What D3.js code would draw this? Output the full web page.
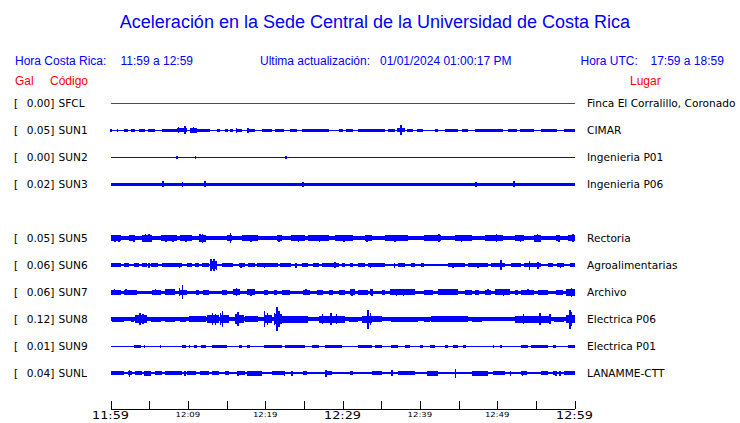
<!DOCTYPE html>
<html><head><meta charset="utf-8">
<script src="https://cdn.jsdelivr.net/npm/d3@7"></script>
<style>
html,body{margin:0;padding:0;background:#fff;}
svg{display:block;}
</style></head>
<body>
<svg id="chart" width="740" height="423"></svg>
<script>
// ---------- DATA ----------
const title = "Aceleración en la Sede Central de la Universidad de Costa Rica";
const horaCR = "11:59 a 12:59";
const horaUTC = "17:59 a 18:59";
const actualizacion = "01/01/2024 01:00:17 PM";

const rowOrder = ["SFCL","SUN1","SUN2","SUN3","SUN4","SUN5","SUN6","SUN7","SUN8","SUN9","SUNL"];
const codes    = ["SFCL","SUN1","SUN2","SUN3","SUN5","SUN6","SUN7","SUN8","SUN9","SUNL"];
const places   = ["Finca El Corralillo, Coronado","CIMAR","Ingenieria P01","Ingenieria P06","Rectoria",
                  "Agroalimentarias","Archivo","Electrica P06","Electrica P01","LANAMME-CTT"];
const peakGal  = [0.00,0.05,0.00,0.02,0.05,0.06,0.06,0.12,0.01,0.04];
const baseAmp  = [0.5,0.5,0.5,1.5,2.2,1.0,1.5,1.7,0.5,1.0];

// minutes after 11:59
const tickMinutes = [0,5,10,15,20,25,30,35,40,45,50,55,60];
const tickLabels  = {0:"11:59",10:"12:09",20:"12:19",30:"12:29",40:"12:39",50:"12:49",60:"12:59"};
const majorTicks  = [0,30,60];

// bursts: [startMin, endMin, amplitude]
const burstsSFCL = [];
const burstsSUN1 = [[1.7,2.3,1.5],[2.7,3.2,1.5],[3.7,4.5,1.5],[4.9,5.8,1.5],[6.7,8.6,1.5],[8.6,9.9,2],[10.3,11.2,2.5],
  [11.2,12.9,1.5],[13.8,14.2,1.5],[14.8,15.2,1.5],[15.5,15.9,1.5],[16.3,17.0,1.5],[17.6,18.7,1.5],[19.6,20.9,1.5],
  [21.3,22.4,1.5],[23.2,24.1,1.5],[24.7,28.2,1.5],[29.5,30.1,1.5],[30.5,31.4,1.5],[32.0,35.5,1.5],[35.9,36.8,1.5],
  [37.1,38.1,2],[38.3,39.1,1.5],[39.6,40.4,1.5],[41.9,42.4,1.5],[43.2,44.9,1.5],[45.4,46.2,1.5],[47.1,50.8,1.5],
  [51.4,52.5,1.5],[52.9,54.8,1.5],[55.7,57.8,1.5],[58.7,60,1.5]];
const burstsSUN2 = [];
const burstsSUN3 = [];
const burstsSUN5 = [[0,1.3,3],[2.4,3.2,3],[4.1,5.4,3.5],[6.5,8.6,3],[9.0,10.5,3],[11.4,12.3,3.5],[15.1,15.7,3],
  [17.0,19.1,3],[21.5,22.2,3],[23.4,25.2,3],[25.6,28.2,3],[29.0,31.4,3],[32.9,33.8,3],[35.5,38.5,3],[40.6,42.8,3],
  [44.5,46.7,3],[48.4,50.8,3],[52.3,53.5,3],[54.8,55.7,3.5],[57.6,58.1,3],[59.1,60,3]];
const burstsSUN6 = [[0,1.3,2],[1.7,2.4,2],[3.0,3.7,2],[4.1,4.7,2],[5.2,6.2,2],[6.7,9.2,2],[9.9,10.5,2],[10.9,11.4,2],
  [11.8,12.7,2],[12.9,13.8,4],[14.4,15.9,2],[16.6,17.4,2],[17.8,18.7,2],[18.9,21.7,2],[21.9,23.4,2],[24.7,25.6,2],
  [26.2,26.9,2],[27.3,29.5,2],[29.9,30.3,2],[31.0,31.4,2],[32.0,32.9,2],[33.3,35.5,2],[37.2,38.1,2],[38.9,39.4,2],
  [40.2,40.6,2],[43.7,45.8,2],[46.2,48.8,2],[49.2,51.0,2],[51.8,53.1,2],[53.5,55.7,2],[56.6,57.2,2],[57.8,58.7,2],[59.4,60,2]];
const burstsSUN7 = [[0,1.3,2.5],[1.7,3.4,2.5],[5.4,6.5,2.5],[7.1,8.4,3],[8.8,9.9,2.5],[11.0,11.4,2.5],[12.0,12.7,2.5],
  [14.4,15.1,2.5],[15.9,16.8,3],[17.6,18.7,3],[19.8,20.4,2.5],[21.1,21.5,2.5],[22.2,23.2,2.5],[24.9,25.8,2.5],
  [26.7,27.5,2.5],[28.2,28.8,2.5],[29.5,30.3,2.5],[31.0,31.6,3],[32.0,33.3,2.5],[33.5,34.0,3],[35.1,35.5,2.5],
  [36.1,39.4,3],[40.6,41.7,2.5],[42.4,44.9,3],[45.8,46.7,2.5],[47.1,47.7,2.5],[48.4,49.2,2.5],[49.7,51.6,3],
  [52.3,52.7,2.5],[53.1,54.8,2.5],[55.3,56.6,2.5],[57.6,58.5,2.5],[58.9,60,3.5]];
const burstsSUN8 = [[0.2,1.7,2.5],[2.6,3.0,2.5],[3.2,4.7,4],[5.2,6.5,2.5],[7.1,8.4,2.5],[9.0,9.7,2.5],[10.1,12.3,3],
  [12.5,14.0,4],[14.2,15.3,4],[16.3,17.2,4],[17.4,19.1,3],[19.8,20.9,4],[21.1,22.2,5],[22.2,25.6,3.5],[26.9,30.3,3.5],
  [30.8,32.0,2.5],[32.5,33.8,3.5],[33.8,35.1,3],[36.3,39.8,2.5],[40.6,41.3,2.5],[41.5,46.2,3],[46.7,48.0,2.5],
  [48.4,51.4,2],[52.3,57.0,3.5],[57.4,58.7,2.5],[58.9,60,4]];
const burstsSUN9 = [[3.1,3.9,1.5],[4.3,4.5,1.5],[6.4,6.5,1.5],[9.2,9.7,1.5],[10.1,10.3,1.5],[10.8,11.2,1.5],[11.7,12.3,1.5],
  [13.1,15.1,1.5],[16.6,17.0,1.5],[17.6,18.1,1.5],[19.8,22.2,1.5],[22.6,25.2,1.5],[26.0,26.9,1.5],[27.7,29.9,1.5],
  [32.0,33.8,1.5],[34.2,35.1,1.5],[36.3,37.2,1.5],[38.1,38.7,1.5],[40.0,40.4,1.5],[41.3,41.9,1.5],[43.2,43.7,1.5],
  [44.3,44.9,1.5],[45.6,46.0,1.5],[49.4,49.5,1.5],[50.4,50.6,1.5],[53.1,54.0,1.5],[54.4,56.6,1.5],[57.2,57.6,1.5],[59.1,60,1.5]];
const burstsSUNL = [[0,1.7,2],[2.2,2.8,2],[3.2,4.1,2],[4.3,5.2,2.5],[5.8,6.7,2],[7.1,9.2,2],[9.9,11.0,2],[11.6,12.7,2],
  [13.1,14.0,2],[14.8,15.3,2],[16.6,17.4,2],[17.6,19.6,2.5],[20.9,22.6,2],[24.9,25.4,2],[27.7,28.6,2],[31.0,31.4,2],
  [33.8,35.1,2],[37.2,39.4,2],[40.9,42.4,2.5],[46.7,48.8,2.5],[49.5,51.0,2],[53.1,53.8,2],[55.7,56.6,2],[57.2,57.6,2],[58.7,60,2]];

// spikes: [minute, amplitude]
const spikesSFCL = [];
const spikesSUN1 = [[0.1,1.5],[0.9,1.5],[8.8,3],[9.6,4],[10.75,3],[16.3,2.5],[17.8,2.5],[37.55,5.3]];
const spikesSUN2 = [[8.6,1.5],[11.0,1.5],[22.7,1.5]];
const spikesSUN3 = [[6.75,2.8],[9.3,2.5],[12.2,3],[24.9,2.5],[47.3,2.5],[52.2,3]];
const spikesSUN5 = [[0.6,3.5],[1.1,3.5],[3.0,3.5],[4.5,4],[5.0,4],[7.2,3.5],[8.1,3.5],[9.8,3.5],[11.6,4],[11.9,4.5],
  [15.5,5.3],[18.2,3.5],[21.8,3.5],[24.3,3.5],[27.0,3.5],[30.2,3.5],[33.2,3.5],[36.8,3.5],[42.5,4],[45.4,3.5],
  [49.9,4.3],[53.0,3.5],[55.2,4],[58.0,3.5],[59.8,4]];
const spikesSUN6 = [[13.0,6.3],[13.4,6],[13.7,4.5],[5.0,2.5],[8.9,2.5],[16.9,2.5],[19.9,2.5],[24.0,2.5],[29.0,3],
  [33.6,2.5],[36.7,2.5],[44.3,2.5],[47.5,2.5],[50.5,5.3],[54.2,4.5],[55.3,3.5],[58.2,2.5]];
const spikesSUN7 = [[0.5,3],[2.0,3],[5.8,3],[8.9,4],[9.3,6.7],[16.3,4],[18.2,3.5],[25.3,3],[31.2,3.5],[33.8,3.5],
  [37.0,3.5],[37.9,3.5],[44.0,3],[48.8,3],[50.8,3.5],[54.0,3],[59.6,4.5]];
const spikesSUN8 = [[3.8,6],[4.2,5],[12.9,4],[13.2,6],[13.6,5.5],[14.2,6],[14.5,8],[16.2,5],[16.5,7],[19.9,7.8],[20.3,6],
  [21.2,6],[21.5,12],[21.8,8],[27.4,5],[28.5,6],[29.2,5],[33.3,9.5],[33.6,6],[53.4,5],[55.5,6],[56.8,5],[59.4,9.5],[59.6,7]];
const spikesSUN9 = [];
const spikesSUNL = [[2.45,3.5],[4.6,2.5],[9.6,2.5],[16.5,2.5],[22.5,2.5],[23.5,2.5],[27.9,3.5],[36.4,3],[44.6,4.5],[51.7,2.5],[53.3,2.5],[57.6,2.5],[58.1,2.5]];

const burstsBy = {SFCL:burstsSFCL,SUN1:burstsSUN1,SUN2:burstsSUN2,SUN3:burstsSUN3,SUN5:burstsSUN5,SUN6:burstsSUN6,SUN7:burstsSUN7,SUN8:burstsSUN8,SUN9:burstsSUN9,SUNL:burstsSUNL};
const spikesBy = {SFCL:spikesSFCL,SUN1:spikesSUN1,SUN2:spikesSUN2,SUN3:spikesSUN3,SUN5:spikesSUN5,SUN6:spikesSUN6,SUN7:spikesSUN7,SUN8:spikesSUN8,SUN9:spikesSUN9,SUNL:spikesSUNL};

// ---------- DRAW ----------
const svg = d3.select("#chart");
const BLUE = "#0000ff", RED = "#ff0000";

const x = d3.scaleLinear().domain([0,60]).range([110.5,574.5]);
const row = d3.scalePoint().domain(rowOrder).range([103,373]);
const amp = d3.scaleLinear().domain([0,12]).range([0,12]);

// header
svg.append("text").attr("x",375).attr("y",28).attr("text-anchor","middle")
  .attr("font-family","Liberation Sans, Arial, sans-serif").attr("font-size",18).attr("fill",BLUE).text(title);

const hdr = svg.append("g").attr("font-family","Liberation Sans, Arial, sans-serif").attr("font-size",12).attr("fill",BLUE);
hdr.append("text").attr("x",15).attr("y",65).text("Hora Costa Rica:");
hdr.append("text").attr("x",120.5).attr("y",65).text(horaCR);
hdr.append("text").attr("x",260).attr("y",65).text("Ultima actualización:");
hdr.append("text").attr("x",380).attr("y",65).text(actualizacion);
hdr.append("text").attr("x",580.5).attr("y",65).text("Hora UTC:");
hdr.append("text").attr("x",650.5).attr("y",65).text(horaUTC);

const sub = svg.append("g").attr("font-family","Liberation Sans, Arial, sans-serif").attr("font-size",12).attr("fill",RED);
sub.append("text").attr("x",15).attr("y",85).text("Gal");
sub.append("text").attr("x",50).attr("y",85).text("Código");
sub.append("text").attr("x",630).attr("y",85).text("Lugar");

// labels
const lab = svg.append("g").attr("font-family","DejaVu Sans, sans-serif").attr("font-size",10.6).attr("fill","#000");
codes.forEach((c,i)=>{
  const y = row(c)+4;
  lab.append("text").attr("x",14).attr("y",y).text("[");
  lab.append("text").attr("x",54.5).attr("y",y).attr("text-anchor","end").text(peakGal[i].toFixed(2)+"]");
  lab.append("text").attr("x",58.5).attr("y",y).text(c);
  lab.append("text").attr("x",587).attr("y",y).text(places[i]);
});

// traces
const tr = svg.append("g").attr("shape-rendering","crispEdges");
codes.forEach((c,i)=>{
  const col = c==="SFCL" ? RED : BLUE;
  const cy = row(c);
  const g = tr.append("g").attr("fill",col).attr("stroke",col);
  g.append("rect").attr("x",x(0)).attr("width",x(60)-x(0))
    .attr("y",cy-amp(baseAmp[i])).attr("height",2*amp(baseAmp[i])).attr("stroke","none");
  g.selectAll("rect.b").data(burstsBy[c]).join("rect").attr("class","b").attr("stroke","none")
    .attr("x",d=>x(d[0])).attr("width",d=>Math.max(1,x(d[1])-x(d[0])))
    .attr("y",d=>cy-amp(d[2])).attr("height",d=>2*amp(d[2]));
  g.selectAll("line.s").data(spikesBy[c]).join("line").attr("class","s")
    .attr("x1",d=>x(d[0])).attr("x2",d=>x(d[0]))
    .attr("y1",d=>cy-amp(d[1])).attr("y2",d=>cy+amp(d[1])).attr("stroke-width",1.6);
});

// time axis
const axis = d3.axisBottom(x).tickValues(tickMinutes).tickSizeInner(-8).tickSizeOuter(0).tickPadding(0).tickFormat(()=> "");
const ax = svg.append("g").attr("transform","translate(0,409)").attr("shape-rendering","crispEdges").call(axis);
ax.select(".domain").attr("stroke","#000");
ax.selectAll(".tick line").attr("stroke","#000");
const tl = svg.append("g").attr("font-family","DejaVu Sans, sans-serif").attr("fill","#000");
Object.keys(tickLabels).map(Number).forEach(m=>{
  const major = majorTicks.includes(m);
  tl.append("text").attr("transform",`translate(${x(m)},${major?419:417.3}) scale(1.22,1)`)
    .attr("text-anchor","middle").attr("font-size",major?10.5:7).text(tickLabels[m]);
});
</script>
</body></html>
